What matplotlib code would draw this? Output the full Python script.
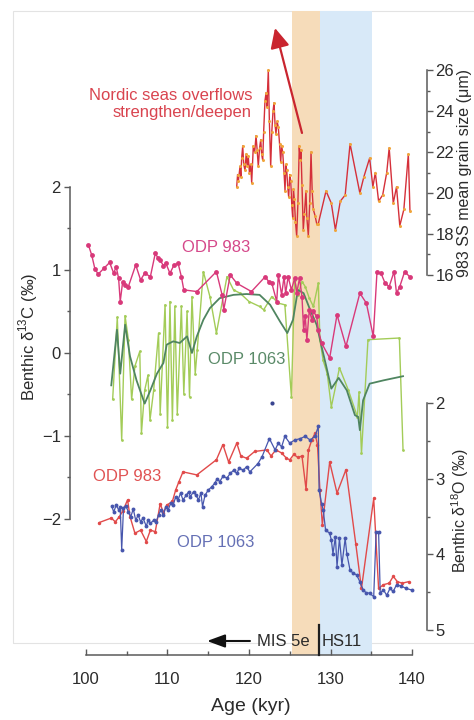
import matplotlib
matplotlib.use("Agg")
import matplotlib.pyplot as plt
from matplotlib.patches import Rectangle
from matplotlib.transforms import blended_transform_factory

plt.rcParams['font.family'] = ['Liberation Sans', 'DejaVu Sans']
plt.rcParams['mathtext.fontset'] = 'custom'
plt.rcParams['mathtext.rm'] = 'Liberation Sans'

# ---------------- data ----------------
# 983 sortable silt mean grain size (um)
gs_age = [118.49, 118.6, 118.7, 118.9, 119.0, 119.1, 119.23, 119.35, 119.51, 119.65,
          119.8, 119.91, 120.05, 120.2, 120.33, 120.53, 120.7, 120.86, 121.0, 121.14,
          121.3, 121.44, 121.55, 121.68, 121.8, 121.96, 122.1, 122.2, 122.37, 122.5,
          122.66, 122.8, 122.95, 123.07, 123.2, 123.31, 123.45, 123.6, 123.75, 123.89,
          124.0, 124.13, 124.3, 124.42, 124.52, 124.63, 124.75, 124.87, 125.0, 125.12,
          125.25, 125.36, 125.45, 125.56, 125.7, 125.85, 126.0, 126.17, 126.28, 126.38,
          126.5, 126.66, 126.8, 126.99, 127.1, 127.28, 127.45, 127.61, 127.75, 127.89,
          128.1, 128.31, 128.5, 129.45, 130.1, 130.6, 131.2, 131.8, 132.4, 133.6,
          134.1, 134.8, 135.2, 135.5, 135.9, 136.4, 136.9, 137.2, 137.7, 138.1,
          138.5, 139.0, 139.55, 139.75]
gs_val = [20.3, 20.9, 20.6, 21.3, 20.8, 21.7, 22.3, 21.4, 21.1, 21.9,
          21.3, 21.8, 21.0, 21.4, 20.5, 22.3, 22.0, 22.8, 22.1, 21.3,
          22.2, 22.6, 21.9, 21.6, 23.0, 24.5, 24.9, 24.2, 26.0, 23.5,
          21.3, 23.0, 24.0, 24.4, 23.3, 22.9, 23.5, 23.2, 22.4, 21.5,
          22.3, 22.0, 21.0, 20.1, 21.4, 21.1, 20.3, 19.8, 20.9, 20.6,
          19.4, 18.8, 20.2, 19.7, 18.6, 17.9, 19.5, 22.3, 21.6, 22.1,
          20.4, 18.2, 19.0, 20.1, 18.8, 17.9, 19.5, 22.0, 20.1, 19.2,
          18.9, 18.5, 18.5, 20.1, 19.5, 18.2, 19.6, 19.9, 22.4, 20.0,
          20.8, 21.7, 20.3, 21.0, 19.6, 19.9, 21.0, 22.2, 19.5, 20.3,
          18.4, 19.2, 21.9, 19.1]

# ODP 983 benthic d13C (permil)
c983_age = [100.3, 100.7, 101.1, 101.5, 102.2, 102.9, 103.4, 103.7, 104.0, 104.2,
            104.5, 104.8, 105.2, 106.1, 106.7, 107.2, 107.9, 108.5, 108.8, 109.1,
            109.5, 109.8, 110.3, 110.8, 111.3, 111.7, 112.0, 113.6, 116.0, 116.7,
            116.9, 117.7, 118.5, 120.3, 122.0, 122.4, 122.8, 123.4, 123.6, 124.0,
            124.3, 124.5, 124.8, 125.2, 125.6, 125.85, 126.2, 126.5, 126.7, 126.9,
            127.1, 127.4, 127.7, 127.9, 128.3, 128.5, 128.9, 129.9, 130.8, 131.9,
            133.6, 134.4, 135.25, 135.7, 136.2, 136.7, 137.2, 137.8, 138.1, 138.5,
            139.1, 139.7]
c983_val = [1.30, 1.18, 1.01, 0.95, 1.02, 1.09, 0.96, 1.04, 0.90, 0.62,
            0.86, 0.82, 0.80, 1.06, 0.88, 0.96, 0.92, 1.20, 1.15, 1.12,
            1.05, 1.08, 0.96, 1.06, 1.08, 0.92, 0.76, 0.74, 0.98, 0.70,
            0.52, 0.94, 0.84, 0.74, 0.92, 0.86, 0.84, 0.62, 0.94, 0.70,
            0.92, 0.72, 0.92, 0.76, 0.90, 0.72, 0.90, 0.68, 0.28, 0.44,
            0.16, 0.52, 0.40, 0.50, 0.44, 0.28, 0.12, -0.06, 0.46, 0.08,
            0.72, 0.60, 0.20, 0.97, 0.96, 0.84, 0.80, 0.98, 0.72, 0.80,
            0.98, 0.92]

# ODP 1063 benthic d13C, raw measurements
c1063_age = [103.27, 103.84, 104.38, 104.79, 105.2, 105.6, 106.0, 106.6, 106.8, 107.2,
             107.6, 107.85, 108.3, 108.9, 109.1, 109.7, 110.0, 110.3, 110.6, 110.9,
             111.2, 111.7, 112.0, 112.4, 112.7, 113.0, 113.4, 113.65, 114.4, 115.2,
             116.0, 117.3, 118.1, 118.9, 120.0, 121.3, 121.8, 122.8, 123.6, 124.4,
             125.2, 125.6, 126.0, 126.5, 126.9, 127.4, 127.9, 128.5, 128.7, 129.1,
             129.6, 130.1, 131.1, 132.2, 133.3, 133.5, 133.8, 134.6, 138.45, 138.9]
c1063_val = [-0.56, 0.43, -1.05, 0.45, 0.16, -0.56, -0.16, 0.02, -0.97, -0.45,
             -0.27, -0.81, -0.45, 0.24, -0.73, 0.58, -0.89, 0.62, -0.81, 0.56,
             -0.73, 0.56, -0.49, 0.50, -0.53, 0.68, -0.25, 0.04, 0.98, 0.68,
             0.24, 0.92, 0.76, 0.72, 0.62, 0.56, 0.52, 0.68, 0.60, 0.58,
             -0.53, 0.88, 0.70, 0.86, 0.80, 0.66, 0.56, 0.84, 0.16, -0.09,
             -0.25, -0.65, -0.18, -0.45, -0.77, -0.47, -1.21, 0.16, 0.18, -1.17]

# ODP 1063 benthic d13C, smoothed
c1063s_age = [103.1, 103.8, 104.2, 104.8, 105.4, 106.2, 107.2, 107.9, 108.7, 109.5,
              109.9, 110.7, 111.5, 112.4, 113.0, 113.6, 114.4, 115.2, 116.4, 118.1,
              119.7, 121.3, 122.6, 123.8, 124.7, 125.4, 126.0, 126.7, 127.5, 128.3,
              128.9, 129.5, 130.1, 131.0, 132.0, 133.0, 133.4, 133.6, 134.0, 134.8,
              136.5, 138.9]
c1063s_val = [-0.39, 0.28, -0.25, 0.34, -0.04, -0.33, -0.61, -0.45, -0.25, -0.12,
              0.10, 0.14, 0.12, 0.20, 0.00, 0.20, 0.40, 0.54, 0.66, 0.70,
              0.71, 0.70, 0.58, 0.38, 0.24, 0.40, 0.76, 0.72, 0.52, 0.34,
              0.08, -0.17, -0.43, -0.30, -0.45, -0.75, -0.77, -0.93, -0.57, -0.37,
              -0.33, -0.28]

# ODP 983 benthic d18O (permil)
o983_age = [101.6, 103.1, 103.6, 104.1, 104.5, 105.1, 105.4, 106.0, 106.7, 107.4,
            107.9, 108.5, 109.1, 109.5, 109.9, 110.6, 111.0, 111.4, 111.9, 113.6,
            116.0, 116.8, 117.5, 118.5, 119.0, 119.7, 120.7, 122.2, 122.7, 123.3,
            124.0, 124.6, 125.0, 125.5, 126.0, 126.5, 127.0, 127.3, 127.7, 128.1,
            128.4, 128.7, 129.0, 129.9, 130.8, 131.9, 133.1, 133.8, 135.3, 135.9,
            136.5, 137.2, 137.7, 138.2, 138.8, 139.6]
o983_val = [3.58, 3.52, 3.57, 3.50, 3.43, 3.28, 3.50, 3.72, 3.68, 3.83,
            3.68, 3.70, 3.33, 3.45, 3.35, 3.30, 3.15, 3.04, 2.91, 2.95,
            2.75, 2.55, 2.78, 2.53, 2.70, 2.73, 2.64, 2.62, 2.70, 2.62,
            2.66, 2.73, 2.75, 2.68, 2.72, 2.70, 3.14, 2.62, 2.49, 2.40,
            2.55, 3.15, 3.61, 2.78, 3.19, 2.88, 3.86, 4.45, 3.26, 4.45,
            4.40, 4.38, 4.29, 4.36, 4.38, 4.36]

# ODP 1063 benthic d18O (permil)
o1063_age = [103.15, 103.4, 103.7, 104.0, 104.2, 104.38, 104.6, 104.9, 105.2, 105.5,
             105.8, 106.1, 106.4, 106.7, 107.0, 107.4, 107.6, 107.9, 108.3, 108.6,
             108.9, 109.2, 109.5, 109.8, 110.1, 110.4, 110.7, 111.0, 111.3, 111.6,
             111.9, 112.3, 112.6, 112.8, 113.2, 113.5, 113.8, 114.1, 114.3, 114.6,
             115.0, 115.4, 115.8, 116.1, 116.4, 116.8, 117.3, 117.7, 118.1, 118.5,
             118.8, 119.3, 119.7, 120.1, 121.1, 121.6, 122.5, 123.2, 123.6, 124.0,
             124.4, 125.0, 125.6, 126.3, 126.9, 127.5, 128.1, 128.5, 128.6, 128.9,
             129.1, 129.4, 129.9, 130.1, 130.3, 130.6, 130.8, 131.1, 131.4, 131.8,
             132.0, 132.4, 132.8, 133.2, 133.6, 134.0, 134.4, 134.8, 135.3, 135.6,
             135.9, 136.1, 136.5, 136.9, 137.3, 137.7, 138.1, 138.7, 139.3, 139.95]
o1063_val = [3.36, 3.44, 3.35, 3.41, 3.38, 3.94, 3.39, 3.36, 3.44, 3.50,
             3.40, 3.55, 3.48, 3.57, 3.52, 3.63, 3.55, 3.59, 3.55, 3.57,
             3.48, 3.41, 3.48, 3.37, 3.41, 3.32, 3.35, 3.24, 3.28, 3.19,
             3.28, 3.22, 3.17, 3.24, 3.17, 3.22, 3.28, 3.19, 3.37, 3.22,
             3.15, 3.11, 3.06, 3.00, 3.04, 2.97, 2.99, 2.93, 2.89, 2.93,
             2.86, 2.89, 2.84, 2.91, 2.80, 2.71, 2.47, 2.62, 2.53, 2.58,
             2.44, 2.53, 2.49, 2.47, 2.44, 2.49, 2.44, 2.31, 3.15, 3.33,
             3.41, 3.68, 3.72, 3.81, 3.99, 3.77, 4.16, 3.79, 4.14, 3.79,
             3.99, 4.21, 4.25, 4.27, 4.36, 4.47, 4.51, 4.51, 4.56, 3.70,
             3.70, 4.51, 4.47, 4.54, 4.45, 4.49, 4.40, 4.42, 4.45, 4.47]
o1063_outlier = (122.78, 2.00)

# shaded intervals (kyr)
mis5e_band = (125.3, 128.7)
hs11_band = (128.7, 135.1)
boundary_age = 128.6

# ---------------- styling ----------------
SPINE = '#5a5a5a'
TXT = '#2b2b2b'
C_GS = '#d5303a'
C_GS_MK = '#f0a53c'
C_PINK = '#d8397a'
C_LGREEN = '#a3cc58'
C_DGREEN = '#4f8560'
C_RED = '#e14a4a'
C_BLUE = '#4756ad'

fig = plt.figure(figsize=(4.74, 7.2), dpi=100)

# faint panel frame
fig.add_artist(Rectangle((13 / 474, (720 - 643) / 720), 470 / 474, 632 / 720,
                         transform=fig.transFigure, fill=False, ec='#e3e3e3',
                         lw=0.8, zorder=-5))

ax = fig.add_axes([70 / 474, 65 / 720, 357 / 474, 644 / 720])
ax.patch.set_visible(False)
ax.set_xlim(98.037, 141.84)
ax.set_ylim(-3.639, 4.12)

ax_g = ax.twinx()
ax_g.set_ylim(-2.54, 28.88)
ax_o = ax.twinx()
ax_o.set_ylim(5.329, -3.178)

for a in (ax, ax_g, ax_o):
    a.patch.set_visible(False)
    for s in a.spines.values():
        s.set_visible(False)
        s.set_color(SPINE)
        s.set_linewidth(1.1)

# bands
ax.axvspan(*mis5e_band, color='#f6dcba', lw=0, zorder=0)
ax.axvspan(*hs11_band, color='#d8e9f8', lw=0, zorder=0)

# bottom age axis
ax.spines['bottom'].set_visible(True)
ax.spines['bottom'].set_bounds(100, 140)
ax.set_xticks([100, 110, 120, 130, 140])
ax.set_xticks([105, 115, 125, 135], minor=True)
ax.tick_params(axis='x', which='both', direction='in', length=4, width=1.0,
               colors=SPINE, labelcolor=TXT, labelsize=12, pad=12)
ax.tick_params(axis='x', which='minor', length=3)
ax.set_xlabel('Age (kyr)', fontsize=14, color=TXT)
ax.xaxis.set_label_coords((251 - 70) / 357, (655 - 698) / 644)

# left d13C axis
ax.spines['left'].set_visible(True)
ax.spines['left'].set_bounds(-2, 2)
ax.set_yticks([-2, -1, 0, 1, 2])
ax.set_yticks([-1.5, -0.5, 0.5, 1.5], minor=True)
ax.tick_params(axis='y', which='both', direction='out', length=4, width=1.0,
               colors=SPINE, labelcolor=TXT, labelsize=12, pad=2.5)
ax.tick_params(axis='y', which='minor', length=2.5)
ax.set_ylabel(r'Benthic δ$^{\mathregular{13}}$C (‰)', fontsize=12, color=TXT)
ax.yaxis.set_label_coords((28 - 70) / 357, 0.494)
ax.yaxis.label.set_va('center')

# right grain-size axis
ax_g.spines['right'].set_visible(True)
ax_g.spines['right'].set_bounds(16, 26)
ax_g.set_yticks([16, 18, 20, 22, 24, 26])
ax_g.set_yticks([17, 19, 21, 23, 25], minor=True)
ax_g.tick_params(axis='y', which='both', direction='out', length=4, width=1.0,
                 colors=SPINE, labelcolor=TXT, labelsize=12, pad=2)
ax_g.tick_params(axis='y', which='minor', length=2.5)
ax_g.set_ylabel('983 SS mean grain size (μm)', fontsize=11.5, color=TXT)
ax_g.yaxis.set_label_coords((465 - 70) / 357, 0.748)
ax_g.yaxis.label.set_va('center')

# right d18O axis (inverted)
ax_o.spines['right'].set_visible(True)
ax_o.spines['right'].set_bounds(2, 5)
ax_o.set_yticks([2, 3, 4, 5])
ax_o.set_yticks([2.5, 3.5, 4.5], minor=True)
ax_o.tick_params(axis='y', which='both', direction='out', length=4, width=1.0,
                 colors=SPINE, labelcolor=TXT, labelsize=12, pad=2)
ax_o.tick_params(axis='y', which='minor', length=2.5)
ax_o.set_ylabel(r'Benthic δ$^{\mathregular{18}}$O (‰)', fontsize=11.5, color=TXT)
ax_o.yaxis.set_label_coords((460 - 70) / 357, 0.224)
ax_o.yaxis.label.set_va('center')

# ---------------- series ----------------
ax.plot(c1063_age, c1063_val, color=C_LGREEN, lw=1.0, marker='o', ms=2,
        mec='none', mfc=C_LGREEN, zorder=2)
ax.plot(c1063s_age, c1063s_val, color=C_DGREEN, lw=1.3, zorder=3)
ax.plot(c983_age, c983_val, color=C_PINK, lw=1.0, marker='o', ms=3.5,
        mec='none', mfc=C_PINK, zorder=4)

ax_g.plot(gs_age, gs_val, color=C_GS, lw=1.0, marker='o', ms=2.2,
          mec='none', mfc=C_GS_MK, zorder=3)

ax_o.plot(o983_age, o983_val, color=C_RED, lw=1.0, marker='o', ms=2.5,
          mec='none', mfc=C_RED, zorder=3)
ax_o.plot(o1063_age, o1063_val, color=C_BLUE, lw=0.9, marker='o', ms=2.8,
          mec='none', mfc=C_BLUE, zorder=4)
ax_o.plot([o1063_outlier[0]], [o1063_outlier[1]], ls='none', marker='o', ms=3,
          mec='none', mfc='#3a4590', zorder=4)

# ---------------- annotations ----------------
ax_g.text(120.37, 24.34, 'Nordic seas overflows\nstrengthen/deepen', color='#d9444f',
          fontsize=12, ha='right', va='center', linespacing=1.2)
ax_g.annotate('', xy=(123.19, 28.05), xytext=(126.5, 22.93),
              arrowprops=dict(arrowstyle='-|>,head_length=0.6,head_width=0.29',
                              color='#c9252f', lw=1.6, mutation_scale=20,
                              shrinkA=0, shrinkB=0))

ax.text(111.78, 1.265, 'ODP 983', color='#d5488a', fontsize=12, ha='left', va='center')
ax.text(114.97, -0.084, 'ODP 1063', color='#5a8a68', fontsize=12, ha='left', va='center')
ax_o.text(100.86, 2.97, 'ODP 983', color='#e05252', fontsize=12, ha='left', va='center')
ax_o.text(111.13, 3.84, 'ODP 1063', color='#6570b5', fontsize=12, ha='left', va='center')

bt = blended_transform_factory(ax.transData, ax.transAxes)
y_mis = (655 - 641) / 644
ax.plot([boundary_age, boundary_age], [0, (655 - 625) / 644], color='#1e1e1e',
        lw=1.6, transform=bt, zorder=6, clip_on=False)
ax.text(127.48, y_mis, 'MIS 5e', transform=bt, fontsize=12, color=TXT,
        ha='right', va='center', zorder=6)
ax.text(128.96, y_mis, 'HS11', transform=bt, fontsize=12, color=TXT,
        ha='left', va='center', zorder=6)
ax.annotate('', xy=(114.85, y_mis), xytext=(120.12, y_mis), xycoords=bt, textcoords=bt,
            arrowprops=dict(arrowstyle='-|>,head_length=0.6,head_width=0.22',
                            color='#111111', lw=1.5, mutation_scale=18,
                            shrinkA=0, shrinkB=0), zorder=6)

fig.savefig('out.png', dpi=100)
